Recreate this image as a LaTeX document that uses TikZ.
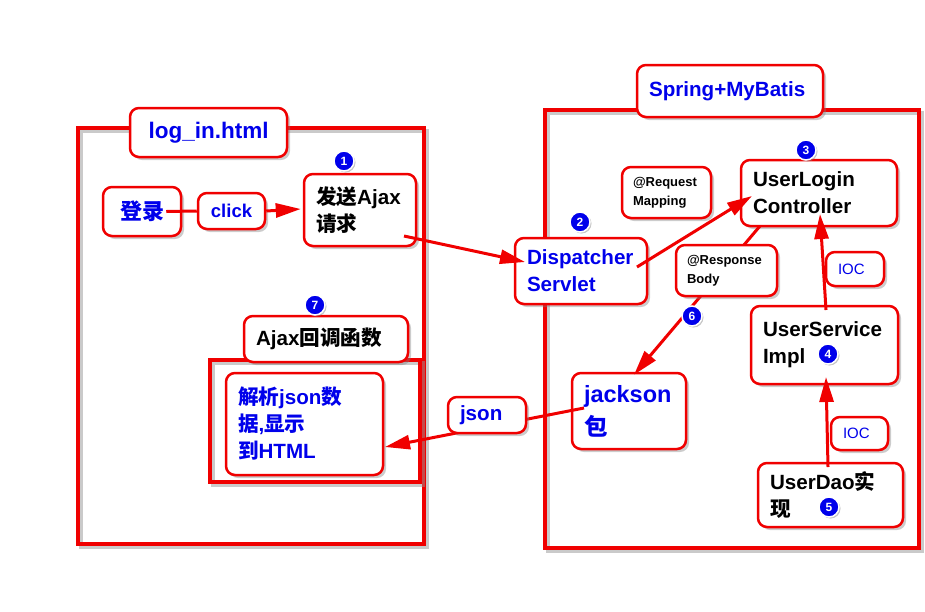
\documentclass[tikz,border=0pt]{standalone}
\usepackage{fontspec}
\setmainfont{Liberation Sans}
\newfontfamily\cjk{Noto Sans CJK SC}
\usetikzlibrary{arrows.meta,shadows,calc}
\definecolor{bred}{RGB}{240,0,0}
\definecolor{tblue}{RGB}{0,0,235}
\definecolor{shd}{RGB}{150,150,150}
\tikzset{
  box/.style={draw=bred, line width=2.5pt, rounded corners=9pt, fill=white,
    drop shadow={shadow xshift=3pt, shadow yshift=-3pt, opacity=0.4},
    inner xsep=12pt, inner ysep=0pt, align=left,
    font=\bfseries\fontsize{20.6}{27}\selectfont},
  smallbox/.style={box, inner xsep=11pt, font=\bfseries\fontsize{13}{19}\selectfont},
  iocbox/.style={box, inner xsep=12pt, text=tblue, font=\fontsize{15}{15}\selectfont},
  numc/.style={circle, fill=tblue, draw=white, line width=1.5pt, text=white,
    font=\bfseries\fontsize{12}{12}\selectfont, inner sep=0pt, minimum size=20pt,
    drop shadow={shadow xshift=1.5pt, shadow yshift=-1.5pt, opacity=0.45}},
  frameline/.style={draw=bred, line width=3.5pt},
  frameshadow/.style={draw=shd, line width=3.5pt, opacity=0.5},
  arr/.style={draw=bred, line width=3pt, -{Triangle[length=25pt,width=14pt]}},
  plainline/.style={draw=bred, line width=3pt}
}
\begin{document}
\begin{tikzpicture}[x=1pt,y=-1pt]
\useasboundingbox (0,0) rectangle (925,611);
% frames
\draw[frameshadow] (81,131) rectangle (427,547);
\draw[frameline] (78,128) rectangle (424,544);
\draw[frameshadow] (548,113) rectangle (922,551);
\draw[frameline] (545,110) rectangle (919,548);
\draw[frameshadow] (213,363) rectangle (423,485);
\draw[frameline] (210,360) rectangle (420,482);

% main boxes
\node[box, text=tblue, align=center, text width=133pt, minimum height=49pt] (loginlbl) at (208.5,132.5) {\fontsize{22.5}{22.5}\selectfont log\_in.html};
\node[box, text=tblue, align=center, text width=54pt, minimum height=49pt] (denglu) at (142,211.5) {{\cjk\fontsize{22}{22}\selectfont 登录}};
\node[box, text=tblue, align=center, text width=43pt, minimum height=36pt, font=\bfseries\fontsize{18.5}{18.5}\selectfont] (click) at (231.5,211) {click};
\node[box, text width=88pt, minimum height=72pt] (send) at (360,210) {{\cjk 发送}Ajax\\{\cjk 请求}};
\node[box, text width=140pt, minimum height=46pt] (cb) at (326,339) {Ajax{\cjk 回调函数}};
\node[box, text=tblue, text width=133pt, minimum height=102pt] (parse) at (304.5,424) {{\cjk 解析}json{\cjk 数}\\{\cjk 据},{\cjk 显示}\\{\cjk 到}HTML};
\node[box, text=tblue, text width=162pt, minimum height=52pt] (spring) at (730,91) {Spring+MyBatis};
\node[box, text=tblue, text width=108pt, minimum height=66pt] (disp) at (581,271) {Dispatcher\\Servlet};
\node[smallbox, text width=67pt, minimum height=51pt] (reqmap) at (666.5,192.5) {@Request\\Mapping};
\node[box, text width=132pt, minimum height=66pt] (ctrl) at (819,193) {UserLogin\\Controller};
\node[box, text=tblue, text width=90pt, minimum height=76pt, font=\bfseries\fontsize{23.5}{33}\selectfont] (jackson) at (629,411) {jackson\\{\cjk 包}};
\node[box, text width=123pt, minimum height=78pt] (svc) at (824.5,345) {UserService\\Impl\vphantom{g}\\[-6pt]};
\node[iocbox, text width=34pt, minimum height=34pt] (ioc1) at (855,269) {IOC};
\node[iocbox, text width=33pt, minimum height=33pt] (ioc2) at (859.5,433.5) {IOC};
\node[box, text width=121pt, minimum height=64pt] (dao) at (830.5,495) {UserDao{\cjk 实}\\{\cjk 现}};

% connectors
\draw[plainline] ($(denglu.east)+(-16,0)$) -- (click.west);
\draw[arr] (click.east) -- ($(send.west)+(-2,-1)$);
\draw[arr] ($(send.center)+(44,26)$) -- ($(disp.center)+(-56,-9)$);
\draw[arr] ($(disp.center)+(56,-4)$) -- ($(ctrl.center)+(-67,3)$);
\draw[arr] ($(ctrl.center)+(-59,33)$) -- ($(jackson.north)+(5,3)$);
\draw[arr] ($(svc.center)+(1.5,-35)$) -- ($(ctrl.center)+(1,21)$);
\draw[arr] ($(dao.center)+(-2.5,-28)$) -- ($(svc.center)+(1.5,32)$);
\draw[arr] ($(jackson.center)+(-45,-3)$) -- ($(parse.center)+(80.5,23)$);

% labels over connectors
\node[box, text=tblue, text width=54pt, minimum height=36pt] (jsonlbl) at (487,415) {json};
\node[smallbox, text width=79pt, minimum height=51pt] (resp) at (726.5,270.5) {@Response\\Body};

% step numbers
\node[numc] (n1) at (344,161) {1};
\node[numc] (n2) at (580,222) {2};
\node[numc] (n3) at (806,150) {3};
\node[numc] (n4) at (828,354) {4};
\node[numc] (n5) at (829,507) {5};
\node[numc] (n6) at (692,316) {6};
\node[numc] (n7) at (315,305) {7};
\end{tikzpicture}
\end{document}
